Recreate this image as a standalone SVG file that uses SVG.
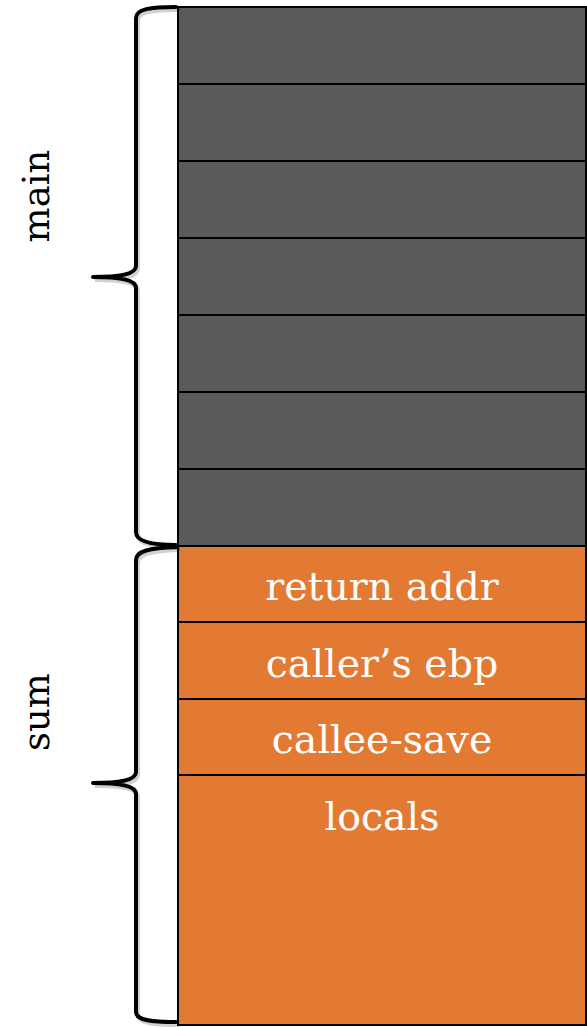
<svg xmlns="http://www.w3.org/2000/svg" width="587" height="1027" viewBox="0 0 587 1027">
  <defs>
    <style>
      .slot-main { fill: #595B5A; stroke: #000; stroke-width: 2; }
      .slot-sum { fill: #E27A33; stroke: #000; stroke-width: 2; }
      .brace { fill: none; stroke: #000; stroke-width: 4; stroke-linecap: round; stroke-linejoin: round; }
      .brace-shadow { fill: none; stroke: #000; stroke-opacity: 0.18; stroke-width: 4; stroke-linecap: round; }
      .slot-label { font-family: "DejaVu Serif", "Liberation Serif", serif; font-size: 39.5px; fill: #fff; text-anchor: middle; }
      .frame-label { font-family: "DejaVu Serif", "Liberation Serif", serif; font-size: 37px; fill: #000; text-anchor: middle; }
    </style>
  </defs>
  <rect width="587" height="1027" fill="#fff"/>

  <!-- main's frame -->
  <g id="main-frame">
    <rect class="slot-main" x="178" y="7" width="408" height="77"/>
    <rect class="slot-main" x="178" y="84" width="408" height="77"/>
    <rect class="slot-main" x="178" y="161" width="408" height="77"/>
    <rect class="slot-main" x="178" y="238" width="408" height="77"/>
    <rect class="slot-main" x="178" y="315" width="408" height="77"/>
    <rect class="slot-main" x="178" y="392" width="408" height="77"/>
    <rect class="slot-main" x="178" y="469" width="408" height="77"/>
  </g>

  <!-- sum's frame -->
  <g id="sum-frame">
    <g id="return-addr">
      <rect class="slot-sum" x="178" y="546" width="408" height="76"/>
      <text class="slot-label" x="382" y="600">return addr</text>
    </g>
    <g id="callers-ebp">
      <rect class="slot-sum" x="178" y="622" width="408" height="77"/>
      <text class="slot-label" x="382" y="677">caller’s ebp</text>
    </g>
    <g id="callee-save">
      <rect class="slot-sum" x="178" y="699" width="408" height="76"/>
      <text class="slot-label" x="382" y="753">callee-save</text>
    </g>
    <g id="locals">
      <rect class="slot-sum" x="178" y="775" width="408" height="250"/>
      <text class="slot-label" x="382" y="830">locals</text>
    </g>
  </g>

  <!-- braces -->
  <g id="connectors">
    <g transform="translate(2,3)">
      <path class="brace-shadow" d="M176,7 C150,7 136,9 136,18 L136,266 C136,274 120,277 93,277 C120,277 136,280 136,288 L136,532 C136,541 150,545 176,545"/>
      <path class="brace-shadow" d="M176,547 C150,548 136,551 136,560 L136,772 C136,780 120,783 93,783 C120,783 136,786 136,794 L136,1012 C136,1020 150,1022 176,1022"/>
    </g>
    <path id="brace-main" class="brace" d="M176,7 C150,7 136,9 136,18 L136,266 C136,274 120,277 93,277 C120,277 136,280 136,288 L136,532 C136,541 150,545 176,545"/>
    <path id="brace-sum" class="brace" d="M176,547 C150,548 136,551 136,560 L136,772 C136,780 120,783 93,783 C120,783 136,786 136,794 L136,1012 C136,1020 150,1022 176,1022"/>
  </g>

  <g id="label-main">
    <text class="frame-label" transform="translate(49,196) rotate(-90)">main</text>
  </g>
  <g id="label-sum">
    <text class="frame-label" transform="translate(49,712) rotate(-90)">sum</text>
  </g>
</svg>
